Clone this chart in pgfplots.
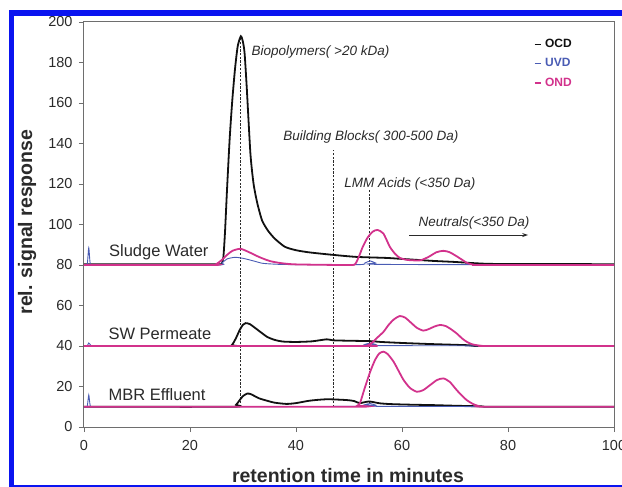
\documentclass[border=0pt]{standalone}
\usepackage{pgfplots}
\pgfplotsset{compat=1.18}
\usepackage{fontspec}
\setmainfont{Liberation Sans}
\usetikzlibrary{arrows.meta}
\definecolor{ocd}{HTML}{111111}
\definecolor{uvd}{HTML}{4A5CB4}
\definecolor{ond}{HTML}{D2328C}
\definecolor{framebl}{HTML}{0A14F0}
\definecolor{txt}{HTML}{2A2A2A}
\definecolor{axgray}{HTML}{6E6E6E}

\begin{document}
\begin{tikzpicture}[trim left=-84bp, trim right=538bp]
\path (-84bp,-60bp) rectangle (538bp,427bp);
\begin{axis}[
  at={(0,0)}, anchor=south west, scale only axis,
  width=530bp, height=405bp,
  xmin=0, xmax=100, ymin=0, ymax=200,
  xtick={0,20,...,100}, ytick={0,20,...,200},
  tick align=outside, tick pos=left, major tick length=5bp,
  axis line style={axgray, line width=1bp},
  every tick/.style={axgray, line width=0.8bp},
  /pgf/number format/assume math mode=true,
  ticklabel style={font=\fontsize{14.5bp}{16bp}\selectfont, text=txt},
  yticklabel style={xshift=-3bp}, xticklabel style={yshift=-5bp},
  xlabel={retention time in minutes}, ylabel={rel. signal response},
  label style={font=\fontsize{19.5bp}{22bp}\selectfont\bfseries, text=txt},
  xlabel style={at={(axis description cs:0.498,-0.138)}, anchor=base},
  ylabel style={at={(axis description cs:-0.098,0.506)}, anchor=base},
  legend style={draw=none, fill=none, at={(axis cs:84.3,193)}, anchor=north west,
    font=\fontsize{12bp}{14bp}\selectfont\bfseries, row sep=7.5bp,
    nodes={inner sep=1bp}},
  legend cell align=left,
  legend image code/.code={\draw[#1, line width=1.5bp] (0bp,0bp) -- (6bp,0bp); \path (8.5bp,0bp);},
]
% marker lines for the fractions
\addplot[forget plot, txt, line width=1.1bp, dash pattern=on 2.2bp off 1.5bp] coordinates {(29.6,10)(29.6,192)};
\addplot[forget plot, txt, line width=1.1bp, dash pattern=on 2.2bp off 1.5bp] coordinates {(47.0,10)(47.0,137)};
\addplot[forget plot, txt, line width=1.1bp, dash pattern=on 2.2bp off 1.5bp] coordinates {(53.8,10)(53.8,117)};

% OCD
\addplot[ocd, line width=1.8bp, smooth, tension=0.4] coordinates {
(0,80.3)(10,80.4)(20,80.3)(25.6,80.4)(26,80.8)(26.3,84)(26.6,96)(27,118)(27.5,143)
(28,162)(28.5,177)(29,188)(29.6,193)(30,190)(30.3,184.6)(30.7,168)(31.4,135)
(32,120)(32.7,110.5)(33.6,102)(34.7,97)(36,93)(37.9,89)(40,87.3)(42.6,86.2)(47,85)
(51.4,84)(57,83.5)(60,83)(63,82.5)(66,82)(70,81.5)(73,81)(76,80.6)(80,80.5)(100,80.4)};
\addlegendentry{\textcolor{ocd}{OCD}}
\addplot[forget plot, ocd, line width=1.8bp, smooth, tension=0.4] coordinates {
(0,40)(27,40)(27.9,40.5)(28.6,43.5)(29.4,48)(30,50.5)(30.5,51.3)(31.3,50.8)(32.5,48.5)
(34.5,44.6)(36,43)(37.5,42.2)(40,42)(43,42.3)(45.8,43.3)(47,42.8)(50,42.6)(54,42.4)
(56,42)(60,41.5)(65,41)(70,40.6)(73.4,40.3)(75,40)(100,40)};
\addplot[forget plot, ocd, line width=1.8bp, smooth, tension=0.4] coordinates {
(0,10)(27.9,10)(28.7,11)(29.3,13)(30,15.3)(30.8,16.5)(31.5,16.2)(33,14.2)(34.5,13)
(36,12)(38.2,11.4)(40,11.8)(42.6,13)(45.8,13.7)(49.6,13.3)(51,12.8)(52,11.8)(53.8,12.6)
(55.8,11.7)(58,11.3)(62,11)(66,10.8)(70,10.5)(75,10.2)(77,10)(100,10)};

% UVD
\addplot[uvd, line width=0.9bp, smooth, tension=0.4] coordinates {
(0,80)(0.6,80.2)(0.9,88.5)(1.2,80.3)(2,80)(24.9,80)(26,81)(27,83)(28.5,83.8)(30,83.3)
(32,82)(33.8,80.8)(37,80.3)(40,80.2)(52,80.2)(53,81)(54,82)(55,81)(56,80.3)(100,80)};
\addlegendentry{\textcolor{uvd}{UVD}}
\addplot[forget plot, uvd, line width=0.9bp, smooth, tension=0.4] coordinates {
(0,40)(0.6,40)(0.9,41.5)(1.3,40.3)(2,40)(52,40.2)(53,40.8)(54,41.4)(55,40.8)(56,40.2)(100,40)};
\addplot[forget plot, uvd, line width=0.9bp, smooth, tension=0.4] coordinates {
(0,10)(0.6,10.2)(0.9,15.8)(1.2,10.3)(2,10)(52,10.2)(53,11)(54,11.6)(55,10.8)(56,10.2)(100,10)};

% OND
\addplot[ond, line width=1.8bp, smooth, tension=0.4] coordinates {
(0,80)(24,80)(25,80.5)(26,82.5)(27,85)(28,87)(29.5,88)(31,86.5)(33,84)(35,82)(37,81)
(40,80.3)(50,80)(51.2,80.6)(52,85)(52.6,89)(53.5,93.5)(54.5,96.5)(55.4,97.3)(56.5,95.5)
(57.7,89)(58.7,85.5)(59.6,83.5)(61,82.5)(63.4,82.3)(65,84)(66.5,86.3)(67.8,87)(69,86.3)
(70.5,84)(72.3,81)(73.5,80.2)(75,80)(100,80)};
\addlegendentry{\textcolor{ond}{OND}}
\addplot[forget plot, ond, line width=1.8bp, smooth, tension=0.4] coordinates {
(0,40)(52.5,40)(53.5,40.3)(54.3,41.5)(55.2,43.8)(56.5,47)(57.5,50.5)(58.5,53.2)(59.6,54.8)
(60.6,54)(61.7,51.5)(62.8,49)(64,47.6)(65,48.3)(66.1,49.6)(67.2,50.4)(68.3,49.8)(69.4,48)
(70.5,45.8)(71.3,43.8)(72.2,42.1)(73.3,40.8)(74.7,40.2)(76,40)(100,40)};
\addplot[forget plot, ond, line width=1.8bp, smooth, tension=0.4] coordinates {
(0,10)(51,10)(51.6,10.6)(52.1,12)(53,19.5)(54,27.3)(54.9,33)(55.7,36.3)(56.5,37.2)
(57.3,36)(58.4,32.3)(59.4,27.5)(60.3,23.2)(61.5,19.3)(62.8,17.4)(64,18.2)(65.3,20.7)
(66.6,23.2)(67.8,24)(69,22.3)(70.3,18.3)(71.3,15.5)(72.2,13.3)(73.3,11.5)(74.4,10.4)
(76,10)(100,10)};

% annotations
\begin{scope}[every node/.style={text=txt, inner sep=0pt}]
\node[anchor=base west, font=\fontsize{13.5bp}{15bp}\selectfont\itshape] at (axis cs:31.6,183.5) {Biopolymers( >20 kDa)};
\node[anchor=base west, font=\fontsize{13.5bp}{15bp}\selectfont\itshape] at (axis cs:37.6,141.7) {Building Blocks( 300-500 Da)};
\node[anchor=base west, font=\fontsize{13.5bp}{15bp}\selectfont\itshape] at (axis cs:49.1,118.5) {LMM Acids (<350 Da)};
\node[anchor=base west, font=\fontsize{13.5bp}{15bp}\selectfont\itshape] at (axis cs:63.1,98.9) {Neutrals(<350 Da)};
\node[anchor=base west, font=\fontsize{16.5bp}{18bp}\selectfont] at (axis cs:4.7,84.1) {Sludge Water};
\node[anchor=base west, font=\fontsize{16.5bp}{18bp}\selectfont] at (axis cs:4.6,43) {SW Permeate};
\node[anchor=base west, font=\fontsize{16.5bp}{18bp}\selectfont] at (axis cs:4.6,13) {MBR Effluent};
\end{scope}
\draw[txt, line width=1bp, -{Stealth[length=6bp, width=4bp]}] (axis cs:61.4,94.8) -- (axis cs:83.8,94.8);
\end{axis}
% blue frame of the figure
\fill[framebl] (-75bp,-60bp) rectangle (-70bp,417bp);
\fill[framebl] (-75bp,411bp) rectangle (538bp,417bp);
\fill[framebl] (-75bp,-60bp) rectangle (538bp,-57.5bp);
\end{tikzpicture}
\end{document}
